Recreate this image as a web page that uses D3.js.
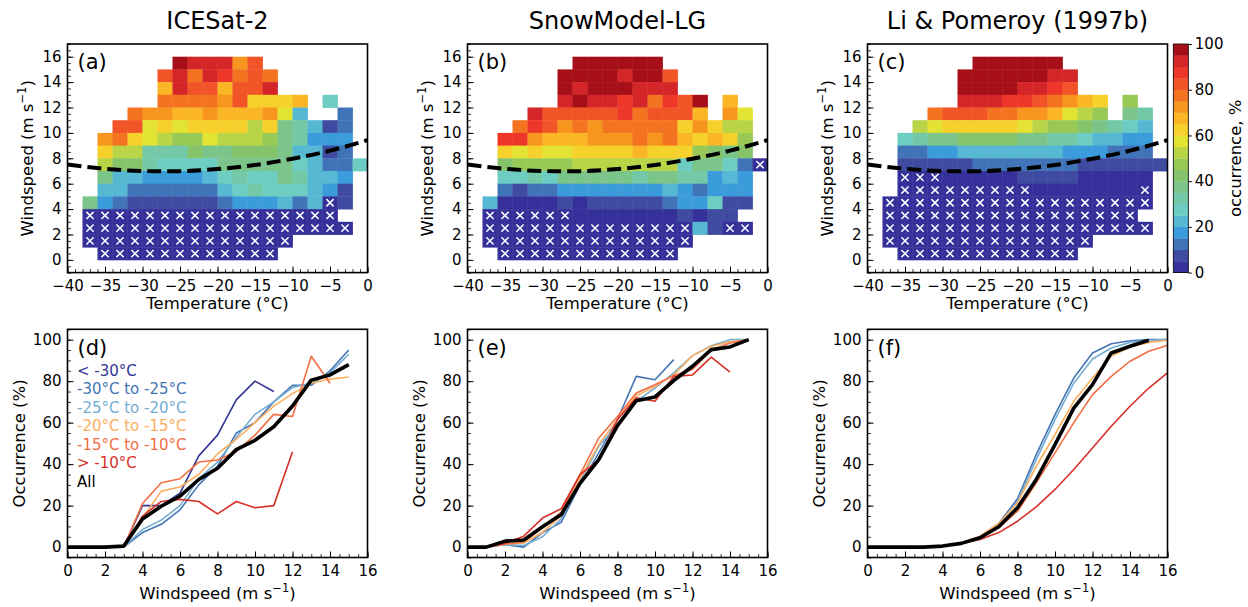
<!DOCTYPE html>
<html>
<head>
<meta charset="utf-8">
<script src="https://cdn.jsdelivr.net/npm/d3@7"></script>
<style>
  body { margin: 0; background: #fff; }
  svg text { font-family: "DejaVu Sans", sans-serif; fill: #000; }
</style>
</head>
<body>
<svg id="chart" width="1248" height="607"></svg>
<script>
var _ = null;

// panel titles
var titles = ["ICESat-2", "SnowModel-LG", "Li & Pomeroy (1997b)"];
var panelTags = ["(a)", "(b)", "(c)", "(d)", "(e)", "(f)"];

// tick labels
var tempTicks = [-40, -35, -30, -25, -20, -15, -10, -5, 0];
var windTicks = [0, 2, 4, 6, 8, 10, 12, 14, 16];
var speedTicks = [0, 2, 4, 6, 8, 10, 12, 14, 16];
var occTicks = [0, 20, 40, 60, 80, 100];
var cbarTicks = [0, 20, 40, 60, 80, 100];

// heatmap bins: left edge of each 2 degC column, lower edge of each 1 m/s row (top row first)
var tempBins = [-38, -36, -34, -32, -30, -28, -26, -24, -22, -20, -18, -16, -14, -12, -10, -8, -6, -4, -2];
var windBins = [15, 14, 13, 12, 11, 10, 9, 8, 7, 6, 5, 4, 3, 2, 1, 0];

// discrete colormap, 20 levels of 5 %
var levelColors = ["#35309a", "#3e4ba0", "#4073b8", "#3a9cda", "#56b8d2", "#6dcdc3", "#73c8a8", "#7bc58a",
                   "#86c46c", "#98c957", "#b9d547", "#e3e333", "#f6d02b", "#fbb626", "#f7951f", "#f47321",
                   "#f15427", "#ee3729", "#d42628", "#a60f18"];

// occurrence (%) per cell, 0 = none (marked with x)
var iceSat = [
  [_,_,_,_,_,_,97,92,92,92,72,82,_,_,_,_,_,_,_],
  [_,_,_,_,_,82,92,77,92,87,77,82,77,_,_,_,_,_,_],
  [_,_,_,_,_,67,92,82,82,67,82,82,92,_,_,_,_,_,_],
  [_,_,_,_,_,77,77,77,77,72,82,62,62,62,67,_,27,_,_],
  [_,_,_,77,72,72,67,67,72,67,67,67,72,57,22,_,_,12,_],
  [_,_,82,82,57,62,57,62,62,62,62,52,62,37,32,22,7,12,_],
  [_,72,77,62,57,52,47,47,57,52,52,52,47,37,32,17,17,17,_],
  [_,62,52,52,32,32,32,42,37,37,42,42,42,37,22,22,7,12,_],
  [_,52,42,42,32,27,27,27,27,37,37,37,37,37,27,22,12,12,27],
  [_,37,22,22,17,17,17,17,22,27,32,27,27,37,32,22,22,17,_],
  [_,22,22,12,12,12,12,12,12,22,27,32,27,27,27,22,17,7,_],
  [37,17,12,7,7,7,7,7,7,12,17,17,17,22,12,22,0,7,_],
  [0,0,0,0,0,0,0,0,0,0,0,0,0,0,0,0,0,_,_],
  [0,0,0,0,0,0,0,0,0,0,0,0,0,0,0,0,0,0,_],
  [0,0,0,0,0,0,0,0,0,0,0,0,0,0,_,_,_,_,_],
  [_,0,0,0,0,0,0,0,0,0,0,0,0,_,_,_,_,_,_]
];

var snowModel = [
  [_,_,_,_,_,_,97,97,97,97,97,97,_,_,_,_,_,_,_],
  [_,_,_,_,_,97,97,97,97,92,97,97,82,_,_,_,_,_,_],
  [_,_,_,_,_,97,92,97,97,97,92,92,92,_,_,_,_,_,_],
  [_,_,_,_,_,92,97,92,92,87,92,77,87,82,97,_,67,_,_],
  [_,_,_,92,82,82,82,82,82,87,77,82,82,82,67,_,72,57,_],
  [_,_,77,87,82,72,77,72,77,77,77,77,77,62,72,62,52,52,_],
  [_,87,87,72,67,67,67,72,72,72,77,72,77,67,62,67,62,47,_],
  [_,62,57,62,57,57,62,62,62,62,67,62,62,62,47,42,37,42,_],
  [_,42,47,47,47,47,52,52,52,52,52,52,52,27,37,37,27,12,0],
  [_,27,27,32,27,37,37,37,37,37,32,37,37,32,32,17,22,17,_],
  [_,12,7,12,12,17,17,17,17,17,17,17,22,17,12,17,17,17,_],
  [22,2,2,2,2,7,2,7,7,7,7,7,12,17,17,27,7,7,_],
  [0,0,0,0,0,0,2,2,2,2,2,2,2,7,2,7,7,_,_],
  [0,0,0,0,0,0,0,0,0,0,0,0,0,0,22,7,0,0,_],
  [0,0,0,0,0,0,0,0,0,0,0,0,0,0,_,_,_,_,_],
  [_,0,0,0,0,0,0,0,0,0,0,0,0,_,_,_,_,_,_]
];

var liPomeroy = [
  [_,_,_,_,_,_,97,97,97,97,97,97,_,_,_,_,_,_,_],
  [_,_,_,_,_,97,97,97,97,97,97,92,92,_,_,_,_,_,_],
  [_,_,_,_,_,97,97,97,97,92,92,87,82,_,_,_,_,_,_],
  [_,_,_,_,_,92,92,92,87,87,82,77,72,67,62,_,47,_,_],
  [_,_,_,77,82,82,82,77,77,72,72,67,57,52,47,_,37,32,_],
  [_,_,52,57,62,62,62,62,62,57,52,47,47,42,37,32,27,22,_],
  [_,27,32,37,37,42,42,42,42,37,37,32,32,27,22,22,17,17,_],
  [_,12,12,17,17,22,22,22,22,22,22,22,17,17,17,12,12,12,_],
  [_,7,7,7,7,7,12,12,12,12,12,12,12,7,7,7,7,7,7],
  [_,0,0,0,2,2,2,2,2,7,7,7,7,2,2,2,2,2,_],
  [_,0,0,0,0,0,0,0,0,0,2,2,2,2,2,2,2,0,_],
  [0,0,0,0,0,0,0,0,0,0,0,0,0,0,0,0,0,0,_],
  [0,0,0,0,0,0,0,0,0,0,0,0,0,0,0,0,0,_,_],
  [0,0,0,0,0,0,0,0,0,0,0,0,0,0,0,0,0,0,_],
  [0,0,0,0,0,0,0,0,0,0,0,0,0,0,_,_,_,_,_],
  [_,0,0,0,0,0,0,0,0,0,0,0,0,_,_,_,_,_,_]
];

// threshold windspeed curve (dashed)
var thrTemp = [-40, -35, -30, -25, -20, -15, -10, -5, 0];
var thrWind = [7.51, 7.17, 7.0, 6.99, 7.15, 7.47, 7.97, 8.6, 9.43];

// occurrence vs windspeed (x = 0, 1, 2, ... m/s)
var speeds = [0, 1, 2, 3, 4, 5, 6, 7, 8, 9, 10, 11, 12, 13, 14, 15, 16];

var classNames = ["< -30\u00b0C", "-30\u00b0C to -25\u00b0C", "-25\u00b0C to -20\u00b0C",
                  "-20\u00b0C to -15\u00b0C", "-15\u00b0C to -10\u00b0C", "> -10\u00b0C", "All"];
var classColors = ["#313695", "#4575b4", "#74add1", "#fdae61", "#f46d43", "#d73027", "#000000"];

var iceLines = [
  [0, 0, 0, 0, 20, 20, 26, 44, 54, 71, 80, 75],
  [0, 0, 0, 0, 7, 11, 18, 30, 39, 55, 60, 70, 78, 78, 85, 95],
  [0, 0, 0, 0, 8.5, 13, 20, 33, 41, 53, 64, 70, 77, 79, 84, 93],
  [0, 0, 0, 0, 14, 27, 29, 35, 45, 52, 60, 68, 74, 79, 81, 82],
  [0, 0, 0, 0, 21, 31, 33, 41, 42, 46, 54, 64, 63, 92, 79],
  [0, 0, 0, 0, 15, 22, 23, 22, 16, 22, 19, 20, 46],
  [0, 0, 0, 0.5, 13.6, 19.7, 24.6, 32.6, 38, 47, 51.5, 58, 68, 80.5, 83, 88]
];

var snowLines = [
  [],
  [0, 0, 1.3, 0, 7, 12, 30, 45.4, 61.5, 82.3, 80.7, 90.4],
  [0, 0, 1.3, 0.8, 5, 13.6, 31.8, 48.6, 59, 70.3, 76.7, 84, 92.3, 97.1, 100, 100],
  [0, 0, 1.5, 2, 7.2, 15, 33, 49.4, 61.5, 73, 77.5, 83, 92.3, 96.8, 99, 100],
  [0, 0, 1.5, 2.5, 9.3, 16.9, 35, 52.6, 63, 74.3, 78.3, 82.7, 85.6, 95, 98.4, 100],
  [0, 0, 1.8, 5.3, 14, 18.5, 35, 42, 61.5, 72, 70.3, 82.3, 83, 91.6, 84.3],
  [0, 0, 2.9, 3.4, 9.8, 15.7, 30.7, 42.2, 58.6, 70.6, 72.4, 80.3, 87.2, 95.2, 96.5, 100]
];

var liLines = [
  [],
  [0, 0, 0, 0, 0.5, 2, 5, 11.4, 23.3, 44.6, 63.9, 81.5, 93.6, 98, 99.5, 100, 100],
  [0, 0, 0, 0, 0.5, 2, 5, 11, 22, 42.2, 61.5, 79, 90.7, 96, 98.7, 99.7, 100],
  [0, 0, 0, 0, 0.5, 2, 5.3, 11.4, 21.3, 39, 54.3, 70.3, 81.5, 92, 96.5, 98.7, 99.7],
  [0, 0, 0, 0, 0.5, 2, 5, 9.3, 17.3, 31, 45.4, 60, 73.5, 82.3, 89.6, 94.4, 97.3],
  [0, 0, 0, 0, 0.5, 1.8, 3.7, 7, 12.5, 19.4, 27.8, 37.4, 47.8, 58.3, 67.9, 76.7, 84],
  [0, 0, 0, 0, 0.5, 1.8, 4.5, 9.8, 19, 32.6, 49.4, 67, 78.3, 93.6, 96.8, 99.7]
];

var svg = d3.select("#chart");

var panelLeft = [67.5, 467.5, 867.5];
var panelW = 300;
var topRow = { "top": 44, "bottom": 272.6 };
var lowRow = { "top": 329.3, "bottom": 557.5 };
var tickFont = "15px";
var labelFont = "16.5px";

var colorScale = d3.scaleQuantize().domain([0, 100]).range(levelColors);

function addTicks(g, axis, minorAxis, transform) {
  var a = g.append("g").attr("transform", transform).call(axis);
  a.select(".domain").remove();
  a.selectAll("text").style("font-size", tickFont).attr("fill", "#000");
  a.selectAll("line").attr("stroke", "#000").attr("stroke-width", 1);
  var m = g.append("g").attr("transform", transform).call(minorAxis);
  m.select(".domain").remove();
  m.selectAll("text").remove();
  m.selectAll("line").attr("stroke", "#000").attr("stroke-width", 0.8);
  return a;
}

function windLabel(sel) {
  sel.text("Windspeed (m s");
  sel.append("tspan").attr("dy", -6.5).style("font-size", "11.5px").text("\u22121");
  sel.append("tspan").attr("dy", 6.5).text(")");
}

function drawHeat(k, grid) {
  var H = topRow.bottom - topRow.top;
  var g = svg.append("g").attr("transform", "translate(" + panelLeft[k] + "," + topRow.top + ")");
  var x = d3.scaleLinear().domain([-40, 0]).range([0, panelW]);
  var y = d3.scaleLinear().domain([-1, 17]).range([H, 0]);

  var cells = [];
  grid.forEach(function(row, r) {
    row.forEach(function(v, c) {
      if (v !== null) cells.push({ "t": tempBins[c], "w": windBins[r], "v": v });
    });
  });

  g.selectAll("rect.cell")
    .data(cells)
    .enter()
    .append("rect")
    .attr("class", "cell")
    .attr("x", function(d) { return x(d.t); })
    .attr("y", function(d) { return y(d.w + 1); })
    .attr("width", function(d) { return x(d.t + 2) - x(d.t) + 0.4; })
    .attr("height", function(d) { return y(d.w) - y(d.w + 1) + 0.4; })
    .attr("fill", function(d) { return colorScale(d.v); });

  // x marks where no occurrence
  var zeros = cells.filter(function(d) { return d.v === 0; });
  var marks = g.selectAll("g.mark")
    .data(zeros)
    .enter()
    .append("g")
    .attr("transform", function(d) { return "translate(" + x(d.t + 1) + "," + y(d.w + 0.5) + ")"; });
  marks.append("path")
    .attr("d", "M-3.6,-3.6L3.6,3.6M-3.6,3.6L3.6,-3.6")
    .attr("stroke", "#fff")
    .attr("stroke-width", 1.5);

  // threshold curve
  g.append("clipPath").attr("id", "clipHeat" + k)
    .append("rect").attr("width", panelW).attr("height", H);
  var line = d3.line()
    .x(function(d, i) { return x(thrTemp[i]); })
    .y(function(d) { return y(d); })
    .curve(d3.curveNatural);
  g.append("path")
    .attr("d", line(thrWind))
    .attr("clip-path", "url(#clipHeat" + k + ")")
    .attr("fill", "none")
    .attr("stroke", "#000")
    .attr("stroke-width", 4)
    .attr("stroke-dasharray", "14,6");

  addTicks(g,
    d3.axisBottom(x).tickValues(tempTicks).tickSizeInner(-6).tickSizeOuter(0).tickPadding(8)
      .tickFormat(function(d) { return d < 0 ? "\u2212" + (-d) : d; }),
    d3.axisBottom(x).tickValues(d3.range(-40, 1, 1)).tickSize(-3.5).tickFormat(""),
    "translate(0," + H + ")");
  addTicks(g,
    d3.axisLeft(y).tickValues(windTicks).tickSizeInner(-6).tickSizeOuter(0).tickPadding(6),
    d3.axisLeft(y).tickValues(d3.range(-1, 17.01, 0.5)).tickSize(-3.5).tickFormat(""),
    "translate(0,0)");

  g.append("rect")
    .attr("width", panelW).attr("height", H)
    .attr("fill", "none").attr("stroke", "#000").attr("stroke-width", 1.6);

  g.append("text").attr("x", 10).attr("y", 25).style("font-size", "21px").text(panelTags[k]);

  g.append("text")
    .attr("x", panelW / 2).attr("y", -15)
    .attr("text-anchor", "middle")
    .style("font-size", "24px")
    .text(titles[k]);

  g.append("text")
    .attr("x", panelW / 2).attr("y", H + 36)
    .attr("text-anchor", "middle")
    .style("font-size", labelFont)
    .text("Temperature (\u00b0C)");

  g.append("text")
    .attr("transform", "translate(" + (-40.5) + "," + (H / 2) + ") rotate(-90)")
    .attr("text-anchor", "middle")
    .attr("dy", "0.35em")
    .style("font-size", labelFont)
    .call(windLabel);
}

function drawLines(k, series) {
  var H = lowRow.bottom - lowRow.top;
  var g = svg.append("g").attr("transform", "translate(" + panelLeft[k] + "," + lowRow.top + ")");
  var x = d3.scaleLinear().domain([0, 16]).range([0, panelW]);
  var y = d3.scaleLinear().domain([-5, 105]).range([H, 0]);

  var line = d3.line()
    .x(function(d, i) { return x(speeds[i]); })
    .y(function(d) { return y(d); });

  series.forEach(function(s, i) {
    if (!s.length) return;
    g.append("path")
      .attr("d", line(s))
      .attr("fill", "none")
      .attr("stroke", classColors[i])
      .attr("stroke-width", i === 6 ? 3.6 : 1.6)
      .attr("stroke-linejoin", "round");
  });

  addTicks(g,
    d3.axisBottom(x).tickValues(speedTicks).tickSizeInner(-6).tickSizeOuter(0).tickPadding(8),
    d3.axisBottom(x).tickValues(d3.range(0, 16.01, 0.5)).tickSize(-3.5).tickFormat(""),
    "translate(0," + H + ")");
  addTicks(g,
    d3.axisLeft(y).tickValues(occTicks).tickSizeInner(-6).tickSizeOuter(0).tickPadding(6),
    d3.axisLeft(y).tickValues(d3.range(-5, 105.1, 5)).tickSize(-3.5).tickFormat(""),
    "translate(0,0)");

  g.append("rect")
    .attr("width", panelW).attr("height", H)
    .attr("fill", "none").attr("stroke", "#000").attr("stroke-width", 1.6);

  g.append("text").attr("x", 10).attr("y", 26).style("font-size", "21px").text(panelTags[k + 3]);

  g.append("text")
    .attr("x", panelW / 2).attr("y", H + 41.5)
    .attr("text-anchor", "middle")
    .style("font-size", labelFont)
    .call(windLabel);

  g.append("text")
    .attr("transform", "translate(" + (-48.5) + "," + (H / 2) + ") rotate(-90)")
    .attr("text-anchor", "middle")
    .attr("dy", "0.35em")
    .style("font-size", labelFont)
    .text("Occurrence (%)");
}

drawHeat(0, iceSat);
drawHeat(1, snowModel);
drawHeat(2, liPomeroy);
drawLines(0, iceLines);
drawLines(1, snowLines);
drawLines(2, liLines);

// legend in panel (d)
var legend = svg.append("g").attr("transform", "translate(77,0)");
legend.selectAll("text")
  .data(classNames)
  .enter()
  .append("text")
  .attr("y", function(d, i) { return 375.5 + i * 18.5; })
  .style("font-size", "15px")
  .style("fill", function(d, i) { return classColors[i]; })
  .text(function(d) { return d; });

// colorbar
var cbX = 1173.3, cbW = 15;
var cb = svg.append("g").attr("transform", "translate(" + cbX + "," + topRow.top + ")");
var cbH = topRow.bottom - topRow.top;
var cy = d3.scaleLinear().domain([0, 100]).range([cbH, 0]);
cb.selectAll("rect.lev")
  .data(levelColors)
  .enter()
  .append("rect")
  .attr("x", 0)
  .attr("y", function(d, i) { return cy((i + 1) * 5); })
  .attr("width", cbW)
  .attr("height", function(d, i) { return cy(i * 5) - cy((i + 1) * 5) + 0.3; })
  .attr("fill", function(d) { return d; });
cb.append("rect").attr("width", cbW).attr("height", cbH)
  .attr("fill", "none").attr("stroke", "#000").attr("stroke-width", 0.8);
var cbAxis = cb.append("g").attr("transform", "translate(" + cbW + ",0)")
  .call(d3.axisRight(cy).tickValues(cbarTicks).tickSize(3.5).tickPadding(3));
cbAxis.select(".domain").remove();
cbAxis.selectAll("text").style("font-size", tickFont).attr("fill", "#000");
cb.append("text")
  .attr("transform", "translate(62," + (cbH / 2) + ") rotate(-90)")
  .attr("text-anchor", "middle")
  .attr("dy", "0.35em")
  .style("font-size", labelFont)
  .text("occurrence, %");
</script>
</body>
</html>
